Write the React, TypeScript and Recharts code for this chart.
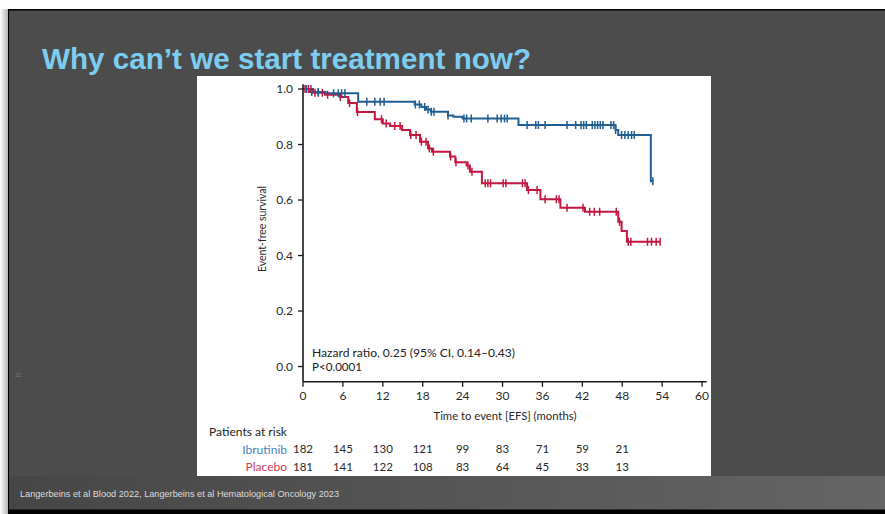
import React from 'react';
import { ComposedChart, Line, Scatter, XAxis, YAxis, Label } from 'recharts';

// ---- Data ----
const X_TICKS = [0, 6, 12, 18, 24, 30, 36, 42, 48, 54, 60];
const Y_TICKS = [0, 0.2, 0.4, 0.6, 0.8, 1.0];

const RISK_TIMES = [0, 6, 12, 18, 24, 30, 36, 42, 48];
const RISK_IBRUTINIB = [182, 145, 130, 121, 99, 83, 71, 59, 21];
const RISK_PLACEBO = [181, 141, 122, 108, 83, 64, 45, 33, 13];

// Step curves: [time (months), event-free survival]
const IBRUTINIB_STEPS: [number, number][] = [
  [0, 1.0], [1, 0.989], [3.4, 0.985], [8.3, 0.954], [16.8, 0.944], [17.8, 0.935],
  [18.5, 0.926], [19.2, 0.918], [21.8, 0.905], [22.6, 0.9], [24, 0.894],
  [32.4, 0.87], [47, 0.852], [47.4, 0.834], [52.3, 0.668], [52.7, 0.668],
];
const PLACEBO_STEPS: [number, number][] = [
  [0, 1.0], [1.5, 0.987], [3.3, 0.979], [5.6, 0.971], [6.8, 0.95], [8.1, 0.917],
  [10.8, 0.891], [12, 0.876], [13.1, 0.867], [14.9, 0.852], [16.1, 0.834],
  [17.6, 0.81], [18.8, 0.786], [19.4, 0.774], [22.1, 0.757], [22.9, 0.736],
  [24.6, 0.724], [25.1, 0.702], [26.9, 0.66], [33.7, 0.636], [35.7, 0.603],
  [38.7, 0.572], [42.4, 0.558], [47.4, 0.522], [47.9, 0.488], [48.7, 0.45], [53.7, 0.45],
];

// Censoring times
const IBRUTINIB_CENSOR = [0.5, 1.3, 2.3, 4.6, 5.3, 5.8, 6.3, 9.6, 10.8, 11.6, 12.2, 16.9, 17.5,
  18.3, 18.8, 19.3, 19.7, 21.8, 24.2, 24.6, 25.3, 27.8, 29.2, 29.8, 30.3, 30.7, 33.7, 35.0,
  35.4, 36.4, 39.7, 41.0, 41.8, 42.2, 42.6, 43.5, 43.9, 44.3, 44.7, 45.1, 46.3, 46.7, 47.0,
  47.9, 48.4, 48.9, 49.4, 49.8, 52.6];
const PLACEBO_CENSOR = [0.3, 0.8, 1.2, 1.8, 2.3, 2.9, 3.7, 5.6, 7.0, 8.2, 11.8, 12.5, 13.8,
  14.6, 16.2, 17.0, 17.8, 18.5, 19.0, 19.6, 22.2, 23.0, 24.8, 25.4, 27.4, 27.8, 28.2, 30.1,
  30.5, 33.0, 33.4, 33.9, 35.2, 36.4, 38.1, 38.5, 39.7, 42.1, 43.1, 43.8, 44.6, 47.1, 47.6,
  48.9, 49.3, 51.8, 52.4, 53.1, 53.7];

const BLUE = '#215e91';
const RED = '#c4163f';
const FONT = 'Lato, "Noto Sans", sans-serif';

const toRows = (steps: [number, number][]) => steps.map(([t, s]) => ({ t, s }));
const lookup = (steps: [number, number][], t: number) => {
  let v = steps[0][1];
  for (const [st, s] of steps) if (st <= t) v = s;
  return v;
};
const censorRows = (steps: [number, number][], times: number[]) =>
  times.map((t) => ({ t, s: lookup(steps, t) }));

const ibRows = toRows(IBRUTINIB_STEPS);
const plRows = toRows(PLACEBO_STEPS);
const ibCensor = censorRows(IBRUTINIB_STEPS, IBRUTINIB_CENSOR);
const plCensor = censorRows(PLACEBO_STEPS, PLACEBO_CENSOR);

const CensorMark = (color: string) => (props: any) => {
  const { cx, cy } = props;
  if (cx == null || cy == null) return <g />;
  return <line x1={cx} x2={cx} y1={cy - 4} y2={cy + 4} stroke={color} strokeWidth={1.5} />;
};

const XTick = (props: any) => {
  const { x, y, payload } = props;
  const v = payload.value;
  const i = RISK_TIMES.indexOf(v);
  return (
    <g fontFamily={FONT} fill="#2a2a2a">
      <text x={x} y={y + 11.5} textAnchor="middle" fontSize={12} fill="#2a2a2a">{v}</text>
      {i >= 0 && (
        <>
          <text x={x} y={y + 64.5} textAnchor="middle" fontSize={11.5} fill="#2a2a2a">{RISK_IBRUTINIB[i]}</text>
          <text x={x} y={y + 82.2} textAnchor="middle" fontSize={11.5} fill="#2a2a2a">{RISK_PLACEBO[i]}</text>
        </>
      )}
    </g>
  );
};

const YTick = (props: any) => {
  const { x, y, payload } = props;
  return (
    <text x={x - 3} y={y + 4.3} textAnchor="end" fontSize={12} fontFamily={FONT} fill="#2a2a2a">
      {Number(payload.value).toFixed(1)}
    </text>
  );
};

export default function App() {
  return (
    <div style={{ position: 'absolute', left: 0, top: 0, width: 885, height: 514, background: '#fff', overflow: 'hidden' }}>
      <svg width={885} height={514} style={{ position: 'absolute', left: 0, top: 0 }}>
        <defs>
          <linearGradient id="shadowL" x1="0" x2="1" y1="0" y2="0">
            <stop offset="0" stopColor="#ffffff" />
            <stop offset="1" stopColor="#b5b5b5" />
          </linearGradient>
          <linearGradient id="foot" x1="0" x2="1" y1="0" y2="0">
            <stop offset="0" stopColor="#464646" />
            <stop offset="1" stopColor="#656565" />
          </linearGradient>
        </defs>
        <rect x={0} y={9} width={8} height={505} fill="url(#shadowL)" />
        <rect x={8} y={9} width={877} height={505} fill="#000" />
        <rect x={9} y={10.5} width={876} height={466} fill="#4c4c4c" />
        <rect x={9} y={476} width={876} height={33.5} fill="url(#foot)" />
        <text x={42} y={69} fontFamily='"Liberation Sans", Arial, sans-serif' fontWeight="bold" fontSize={29}
          fill="#7dcdf0" textLength={489} lengthAdjust="spacingAndGlyphs">
          Why can’t we start treatment now?
        </text>
        <text x={20} y={497} fontFamily='"Liberation Sans", Arial, sans-serif' fontSize={9.5}
          fill="#dcdcdc" textLength={319} lengthAdjust="spacingAndGlyphs">
          Langerbeins  et al Blood 2022, Langerbeins  et al Hematological  Oncology 2023
        </text>
        <text x={15} y={377} fontFamily='"Liberation Sans", Arial, sans-serif' fontSize={6} fill="#7a7a7a">21</text>
      </svg>
      <div style={{ position: 'absolute', left: 197, top: 76, width: 514, height: 400, background: '#fff' }}>
        <ComposedChart width={514} height={400} margin={{ top: 8.3, right: 4.3, left: 46, bottom: 64.2 }}>
          <XAxis
            type="number"
            dataKey="t"
            domain={[0, 60.7]}
            allowDataOverflow
            ticks={X_TICKS}
            interval={0}
            height={30}
            tickSize={5}
            tickMargin={2}
            tick={<XTick />}
            tickLine={{ stroke: '#1a1a1a', strokeWidth: 1.3 }}
            axisLine={{ stroke: '#1a1a1a', strokeWidth: 1.6 }}
          >
            <Label
              content={() => (
                <text x={308} y={344} textAnchor="middle" fontSize={12} fontFamily={FONT} fill="#2a2a2a"
                  textLength={143} lengthAdjust="spacingAndGlyphs">
                  Time to event [EFS] (months)
                </text>
              )}
            />
          </XAxis>
          <YAxis
            type="number"
            dataKey="s"
            domain={[-0.055, 1.017]}
            allowDataOverflow
            ticks={Y_TICKS}
            interval={0}
            width={60}
            tickSize={5}
            tickMargin={2}
            tick={<YTick />}
            tickLine={{ stroke: '#1a1a1a', strokeWidth: 1.3 }}
            axisLine={{ stroke: '#1a1a1a', strokeWidth: 1.6 }}
          >
            <Label
              content={() => (
                <text x={69} y={153} transform="rotate(-90, 69, 153)" textAnchor="middle" fontSize={11}
                  fontFamily={FONT} fill="#2a2a2a" textLength={86} lengthAdjust="spacingAndGlyphs">
                  Event-free survival
                </text>
              )}
            />
          </YAxis>
          <Line data={plRows} dataKey="s" type="stepAfter" stroke={RED} strokeWidth={2} dot={false} isAnimationActive={false} />
          <Line data={ibRows} dataKey="s" type="stepAfter" stroke={BLUE} strokeWidth={2} dot={false} isAnimationActive={false} />
          <Scatter data={plCensor} dataKey="s" shape={CensorMark(RED)} isAnimationActive={false} />
          <Scatter data={ibCensor} dataKey="s" shape={CensorMark(BLUE)} isAnimationActive={false} />
        </ComposedChart>
        <svg width={514} height={400} style={{ position: 'absolute', left: 0, top: 0, pointerEvents: 'none' }}>
          <text x={115} y={281} fontSize={11.5} fontFamily={FONT} fill="#222" textLength={203} lengthAdjust="spacingAndGlyphs">
            Hazard ratio, 0.25 (95% CI, 0.14–0.43)
          </text>
          <text x={115} y={295} fontSize={11.5} fontFamily={FONT} fill="#222" textLength={50} lengthAdjust="spacingAndGlyphs">
            P&lt;0.0001
          </text>
          <text x={12} y={360} fontSize={12} fontFamily={FONT} fill="#222" textLength={78} lengthAdjust="spacingAndGlyphs">
            Patients at risk
          </text>
          <text x={90} y={377.5} textAnchor="end" fontSize={12} fontFamily={FONT} fill="#4a82c2">Ibrutinib</text>
          <text x={90} y={395.2} textAnchor="end" fontSize={12} fontFamily={FONT} fill="#cf3d5e">Placebo</text>
        </svg>
      </div>
    </div>
  );
}
